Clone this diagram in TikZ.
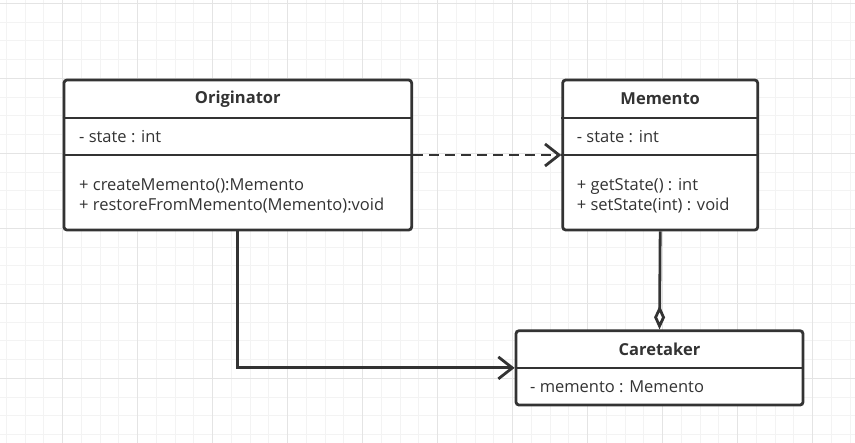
\documentclass[tikz,border=0pt]{standalone}
\usepackage{fontspec}
\setmainfont{Open Sans}
\usetikzlibrary{arrows.meta}
\definecolor{ink}{HTML}{333333}
\definecolor{gridminor}{HTML}{F3F3F3}
\definecolor{gridmajor}{HTML}{E4E4E4}
\tikzset{
  classbox/.style={draw=ink, line width=2.8pt, rounded corners=3pt, fill=white, inner sep=0pt},
  title/.style={font=\fontsize{16.5}{18}\selectfont\bfseries, text=ink},
  member/.style={font=\fontsize{16.5}{18}\selectfont, text=ink, anchor=west, inner sep=0pt},
  link/.style={draw=ink, line width=2.8pt},
}
\begin{document}
\begin{tikzpicture}[x=1pt, y=-1pt]
\useasboundingbox (0,0) rectangle (855,443);
\fill[white] (0,0) rectangle (855,443);
% grid
\foreach \i in {0,...,45} {
  \draw[gridminor, line width=0.9pt] ({6.25+18.75*\i},0) -- ({6.25+18.75*\i},443);
}
\foreach \i in {0,...,23} {
  \draw[gridminor, line width=0.9pt] (0,{3.3+18.75*\i}) -- (855,{3.3+18.75*\i});
}
\foreach \i in {0,...,11} {
  \draw[gridmajor, line width=0.9pt] ({62.5+75*\i},0) -- ({62.5+75*\i},443);
}
\foreach \i in {0,...,5} {
  \draw[gridmajor, line width=0.9pt] (0,{3.3+75*\i}) -- (855,{3.3+75*\i});
}
% classes
\node[classbox, minimum width=347.7pt, minimum height=150pt] (orig) at (237.8,155) {};
\node[classbox, minimum width=195pt, minimum height=150pt] (mem) at (660.2,155) {};
\node[classbox, minimum width=287pt, minimum height=74.3pt] (care) at (659.5,367.9) {};
\draw[link] (orig.west |- 0,118) -- (orig.east |- 0,118);
\draw[link] (orig.west |- 0,155) -- (orig.east |- 0,155);
\draw[link] (mem.west |- 0,118) -- (mem.east |- 0,118);
\draw[link] (mem.west |- 0,155) -- (mem.east |- 0,155);
\draw[link] (care.west |- 0,368) -- (care.east |- 0,368);
\node[title] (origname) at (237.8,99) {Originator};
\node[member] (origattr) at (79,137) {- state : int};
\node[member] (origop1) at (79,186) {+ createMemento():Memento};
\node[member] (origop2) at (79,206) {+ restoreFromMemento(Memento):void};
\node[title] (memname) at (660.2,99) {Memento};
\node[member] (memattr) at (576.7,137) {- state : int};
\node[member] (memop1) at (576.7,186) {+ getState() : int};
\node[member] (memop2) at (576.7,206) {+ setState(int) : void};
\node[title] (carename) at (659.5,349) {Caretaker};
\node[member] (careattr) at (530,387) {- memento : Memento};
% relations
\draw[link, dash pattern=on 10pt off 6pt, -{Straight Barb[length=14pt, width=22pt]}] (orig.east) -- (mem.west);
\draw[link, -{Straight Barb[length=14pt, width=22pt]}] (orig.south) |- (care.west);
\draw[link, -{Diamond[open, fill=white, length=24pt, width=11pt]}] (mem.south) -- (care.north);
\end{tikzpicture}
\end{document}
